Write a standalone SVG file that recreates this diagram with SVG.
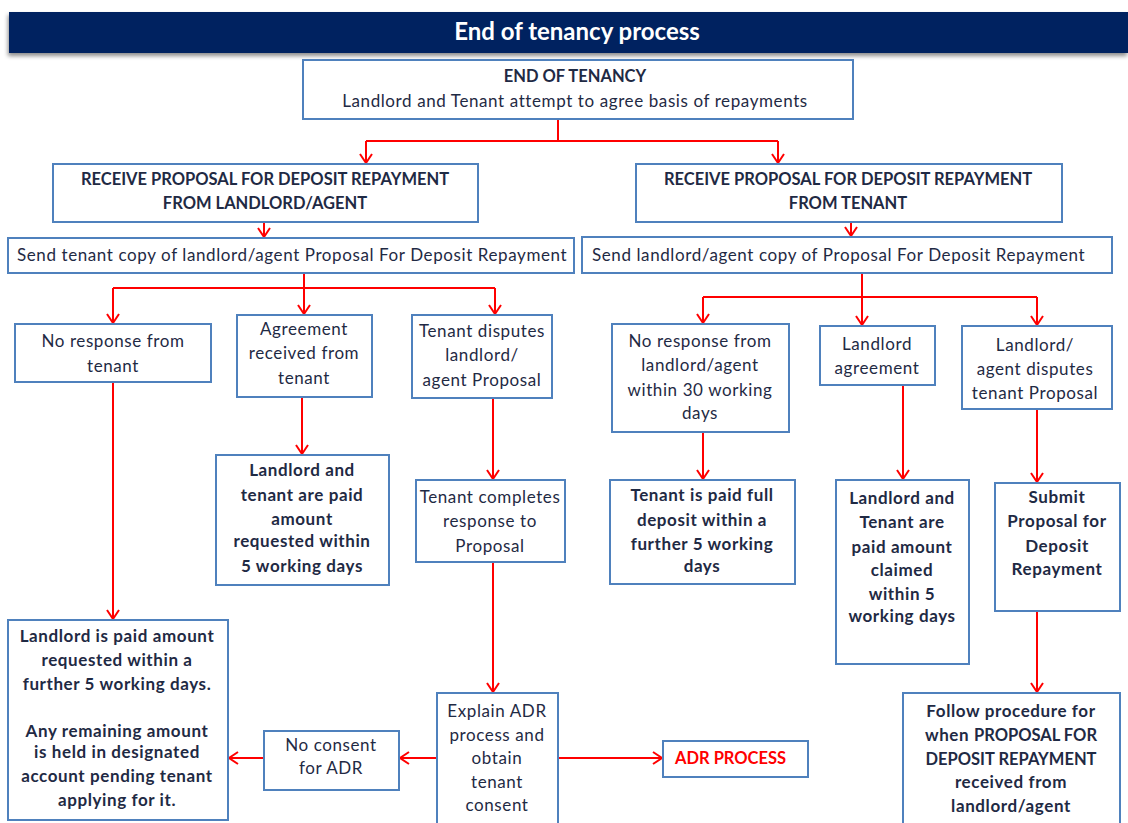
<svg xmlns="http://www.w3.org/2000/svg" width="1128" height="823" viewBox="0 0 1128 823">
<defs>
<marker id="arr" markerWidth="14" markerHeight="14" refX="11" refY="7" orient="auto" markerUnits="userSpaceOnUse">
<polyline points="2,1 11,7 2,13" fill="none" stroke="#ff0000" stroke-width="2"/>
</marker>
<filter id="sh" x="-5%" y="-20%" width="110%" height="160%">
<feDropShadow dx="-1" dy="3" stdDeviation="2" flood-color="#000" flood-opacity="0.45"/>
</filter>
</defs>
<style>
.box{fill:#fff;stroke:#4f81bd;stroke-width:2}
text{font-family:Lato,"Liberation Sans",sans-serif;font-size:17px;letter-spacing:0.6px;fill:#1f2a44;text-anchor:middle}
.b{font-weight:bold}
.k{font-size:16.5px;letter-spacing:0}
.l{text-anchor:start}
.c{fill:none;stroke:#ff0000;stroke-width:2}
.ca{fill:none;stroke:#ff0000;stroke-width:2;marker-end:url(#arr)}
</style>
<rect width="1128" height="823" fill="#fff"/>
<g id="title">
<rect x="9" y="12" width="1119" height="41" fill="#002060" filter="url(#sh)"/>
<text x="577" y="40" style="fill:#fff;font-size:24px;letter-spacing:0;font-weight:bold">End of tenancy process</text>
</g>
<g id="connectors">
<path class="c" d="M558,119 V141 M366,141 H778"/>
<path class="ca" d="M366,141 V163"/>
<path class="ca" d="M778,141 V163"/>
<path class="ca" d="M264,222 V237"/>
<path class="ca" d="M851,222 V236"/>
<path class="c" d="M304,273 V288 M113,288 H495"/>
<path class="ca" d="M113,288 V323"/>
<path class="ca" d="M304,288 V314"/>
<path class="ca" d="M495,288 V314"/>
<path class="c" d="M862,273 V297 M703,297 H1037"/>
<path class="ca" d="M703,297 V323"/>
<path class="ca" d="M862,297 V325"/>
<path class="ca" d="M1037,297 V325"/>
<path class="ca" d="M113,382 V619"/>
<path class="ca" d="M302,397 V454"/>
<path class="ca" d="M493,398 V479"/>
<path class="ca" d="M493,562 V692"/>
<path class="ca" d="M437,758 H400"/>
<path class="ca" d="M264,758 H229"/>
<path class="ca" d="M558,758 H662"/>
<path class="ca" d="M703,432 V479"/>
<path class="ca" d="M903,385 V479"/>
<path class="ca" d="M1037,409 V482"/>
<path class="ca" d="M1037,611 V692"/>
</g>
<g id="end-of-tenancy">
<rect class="box" x="303" y="60" width="550" height="59"/>
<text class="b k" x="575" y="82">END OF TENANCY</text>
<text x="575" y="107">Landlord and Tenant attempt to agree basis of repayments</text>
</g>
<g id="receive-landlord">
<rect class="box" x="53" y="164" width="425" height="58"/>
<text class="b k" x="265" y="185">RECEIVE PROPOSAL FOR DEPOSIT REPAYMENT</text>
<text class="b k" x="265" y="209">FROM LANDLORD/AGENT</text>
</g>
<g id="receive-tenant">
<rect class="box" x="636" y="164" width="426" height="58"/>
<text class="b k" x="848" y="185">RECEIVE PROPOSAL FOR DEPOSIT REPAYMENT</text>
<text class="b k" x="848" y="209">FROM TENANT</text>
</g>
<g id="send-tenant">
<rect class="box" x="8" y="238" width="566" height="35"/>
<text class="l" x="17" y="261">Send tenant copy of landlord/agent Proposal For Deposit Repayment</text>
</g>
<g id="send-landlord">
<rect class="box" x="582" y="237" width="530" height="36"/>
<text class="l" x="592" y="261">Send landlord/agent copy of Proposal For Deposit Repayment</text>
</g>
<g id="no-response-tenant">
<rect class="box" x="15" y="324" width="196" height="58"/>
<text x="113" y="347">No response from</text>
<text x="113" y="372">tenant</text>
</g>
<g id="agreement-tenant">
<rect class="box" x="237" y="315" width="135" height="82"/>
<text x="304" y="335">Agreement</text>
<text x="304" y="359">received from</text>
<text x="304" y="384">tenant</text>
</g>
<g id="tenant-disputes">
<rect class="box" x="412" y="315" width="140" height="83"/>
<text x="482" y="337">Tenant disputes</text>
<text x="482" y="361">landlord/</text>
<text x="482" y="386">agent Proposal</text>
</g>
<g id="no-response-landlord">
<rect class="box" x="612" y="324" width="177" height="108"/>
<text x="700" y="347">No response from</text>
<text x="700" y="371">landlord/agent</text>
<text x="700" y="396">within 30 working</text>
<text x="700" y="419">days</text>
</g>
<g id="landlord-agreement">
<rect class="box" x="820" y="326" width="115" height="59"/>
<text x="877" y="350">Landlord</text>
<text x="877" y="374">agreement</text>
</g>
<g id="landlord-disputes">
<rect class="box" x="962" y="326" width="150" height="83"/>
<text x="1035" y="351">Landlord/</text>
<text x="1035" y="375">agent disputes</text>
<text x="1035" y="399">tenant Proposal</text>
</g>
<g id="landlord-paid">
<rect class="box" x="8" y="620" width="220" height="200"/>
<text class="b" x="117" y="642">Landlord is paid amount</text>
<text class="b" x="117" y="666">requested within a</text>
<text class="b" x="117" y="690">further 5 working days.</text>
<text class="b" x="117" y="737">Any remaining amount</text>
<text class="b" x="117" y="758">is held in designated</text>
<text class="b" x="117" y="782">account  pending tenant</text>
<text class="b" x="117" y="806">applying for it.</text>
</g>
<g id="both-paid-requested">
<rect class="box" x="216" y="455" width="173" height="130"/>
<text class="b" x="302" y="476">Landlord and</text>
<text class="b" x="302" y="501">tenant are paid</text>
<text class="b" x="302" y="525">amount</text>
<text class="b" x="302" y="547">requested within</text>
<text class="b" x="302" y="572">5 working days</text>
</g>
<g id="tenant-completes">
<rect class="box" x="416" y="480" width="149" height="82"/>
<text x="490" y="503">Tenant completes</text>
<text x="490" y="527">response to</text>
<text x="490" y="552">Proposal</text>
</g>
<g id="explain-adr">
<rect class="box" x="437" y="693" width="121" height="140"/>
<text x="497" y="717">Explain ADR</text>
<text x="497" y="741">process and</text>
<text x="497" y="764">obtain</text>
<text x="497" y="788">tenant</text>
<text x="497" y="811">consent</text>
</g>
<g id="no-consent">
<rect class="box" x="264" y="731" width="135" height="59"/>
<text x="331" y="751">No consent</text>
<text x="331" y="774">for ADR</text>
</g>
<g id="adr-process">
<rect class="box" x="663" y="741" width="145" height="36"/>
<text class="b k l" x="675" y="764" style="fill:#ff0000">ADR PROCESS</text>
</g>
<g id="tenant-paid-full">
<rect class="box" x="610" y="480" width="185" height="104"/>
<text class="b" x="702" y="501">Tenant is paid full</text>
<text class="b" x="702" y="526">deposit within a</text>
<text class="b" x="702" y="550">further 5 working</text>
<text class="b" x="702" y="572">days</text>
</g>
<g id="both-paid-claimed">
<rect class="box" x="836" y="480" width="133" height="184"/>
<text class="b" x="902" y="504">Landlord and</text>
<text class="b" x="902" y="528">Tenant are</text>
<text class="b" x="902" y="553">paid amount</text>
<text class="b" x="902" y="576">claimed</text>
<text class="b" x="902" y="600">within 5</text>
<text class="b" x="902" y="622">working days</text>
</g>
<g id="submit-proposal">
<rect class="box" x="995" y="483" width="125" height="128"/>
<text class="b" x="1057" y="503">Submit</text>
<text class="b" x="1057" y="527">Proposal for</text>
<text class="b" x="1057" y="552">Deposit</text>
<text class="b" x="1057" y="575">Repayment</text>
</g>
<g id="follow-procedure">
<rect class="box" x="903" y="693" width="217" height="140"/>
<text class="b" x="1011" y="717">Follow procedure for</text>
<text class="b" x="1011" y="741">when <tspan class="k">PROPOSAL FOR</tspan></text>
<text class="b k" x="1011" y="765">DEPOSIT REPAYMENT</text>
<text class="b" x="1011" y="788">received from</text>
<text class="b" x="1011" y="812">landlord/agent</text>
</g>
</svg>
